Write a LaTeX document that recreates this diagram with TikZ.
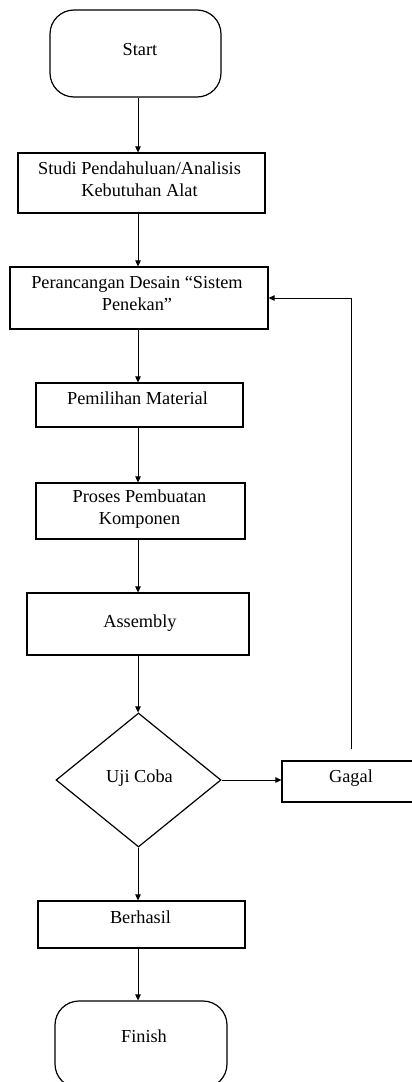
\documentclass[tikz,border=0pt]{standalone}
\usepackage{fontspec}
\setmainfont{Liberation Serif}
\usetikzlibrary{shapes.geometric,arrows.meta}
\begin{document}
\begin{tikzpicture}[x=1pt,y=-1pt,
  shp/.style={draw=black,line width=1.2pt,inner sep=0pt,fill=white},
  boxs/.style={shp,rectangle},
  term/.style={shp,rectangle,rounded corners=24pt},
  dia/.style={shp,diamond},
  txt/.style={font=\fontsize{18.3}{22}\selectfont,align=center,inner sep=0pt},
  arr/.style={line width=1pt,-{Triangle[length=6pt,width=5.5pt]}}]
\useasboundingbox (0,0) rectangle (412,1082);
\clip (0,0) rectangle (412,1082);
\coordinate (ax) at (138,0);
% shapes
\node[term,minimum width=171pt,minimum height=87pt] (start) at (135.5,53.5) {};
\node[boxs,minimum width=247pt,minimum height=60pt] (b2) at (141.5,183) {};
\node[boxs,minimum width=258pt,minimum height=62pt] (b3) at (139,298) {};
\node[boxs,minimum width=207pt,minimum height=44pt] (b4) at (139.5,405) {};
\node[boxs,minimum width=209pt,minimum height=56pt] (b5) at (140.5,511) {};
\node[boxs,minimum width=222pt,minimum height=62pt] (b6) at (138,624) {};
\node[dia,minimum width=165pt,minimum height=134pt] (uji) at (138.5,780) {};
\node[boxs,minimum width=138pt,minimum height=41pt] (gagal) at (351,781.5) {};
\node[boxs,minimum width=207pt,minimum height=47pt] (ok) at (141.5,924.5) {};
\node[term,minimum width=172pt,minimum height=87pt] (finish) at (141,1044.5) {};
% texts
\node[txt] (tstart) at (140,50) {Start};
\node[txt] (tb2) at (139.5,179) {Studi Pendahuluan/Analisis\\Kebutuhan Alat};
\node[txt] (tb3) at (137,293.5) {Perancangan Desain ``Sistem\\Penekan''};
\node[txt] (tb4) at (137.5,398) {Pemilihan Material};
\node[txt] (tb5) at (139.5,509) {Proses Pembuatan\\Komponen};
\node[txt] (tb6) at (140,623) {Assembly};
\node[txt] (tuji) at (139.5,778) {Uji Coba};
\node[txt] (tgagal) at (351,778) {Gagal};
\node[txt] (tok) at (140.5,917) {Berhasil};
\node[txt] (tfinish) at (144,1036) {Finish};
% connectors
\draw[arr] (start.south -| ax) -- (b2.north -| ax);
\draw[arr] (b2.south -| ax) -- (b3.north -| ax);
\draw[arr] (b3.south -| ax) -- (b4.north -| ax);
\draw[arr] (b4.south -| ax) -- (b5.north -| ax);
\draw[arr] (b5.south -| ax) -- (b6.north -| ax);
\draw[arr] (b6.south -| ax) -- (uji.north -| ax);
\draw[arr] (uji.east) -- (uji.east -| gagal.west);
\draw[arr] (uji.south -| ax) -- (ok.north -| ax);
\draw[arr] (ok.south -| ax) -- (finish.north -| ax);
\draw[arr,shorten <=11pt] (gagal.north) -- (gagal.north |- b3.east) -- (b3.east);
\end{tikzpicture}
\end{document}
